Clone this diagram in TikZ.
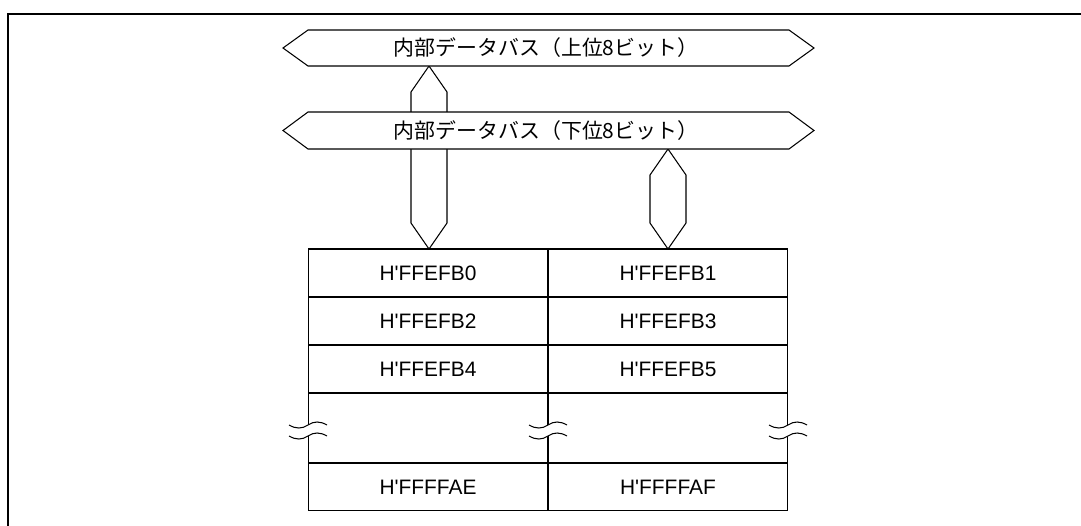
\documentclass[tikz,border=0pt]{standalone}
\usepackage{fontspec}
\setmainfont{Liberation Sans}
\newfontfamily\jpfont{Noto Sans CJK JP}
\usetikzlibrary{positioning}
\tikzset{
  bus/.style    = {draw, fill=white, line width=0.6pt, line join=miter},
  buslbl/.style = {font=\jpfont\fontsize{11.9}{14}\selectfont, inner sep=0pt},
  cell/.style   = {draw, line width=0.6pt, outer sep=0pt, inner sep=0pt,
                   minimum width=4.8cm, minimum height=0.96cm,
                   font=\fontsize{11.9}{14}\selectfont},
  gap/.style    = {cell, minimum height=1.4cm},
  wave/.style   = {line width=0.6pt},
}
\newcommand{\hq}{H\textquotesingle}

\begin{document}
\begin{tikzpicture}[x=0.02cm, y=-0.02cm]
  \useasboundingbox (0,0) rectangle (1081,525);
  % frame
  \draw[line width=1.3pt] (8,560) |- (1110,14);
  % vertical buses
  \draw[bus] (429,66) -- (447,92) -- (447,223) -- (429,249) -- (411,223) -- (411,92) -- cycle;
  \draw[bus] (668,149) -- (686,175) -- (686,223) -- (668,249) -- (650,223) -- (650,175) -- cycle;
  % horizontal buses
  \draw[bus] (283,48) -- (308,30) -- (789,30) -- (814,48) -- (789,66) -- (308,66) -- cycle;
  \node[buslbl] (hibus) at (546,48) {内部データバス（上位8ビット）};
  \draw[bus] (283,130.5) -- (308,112) -- (789,112) -- (814,130.5) -- (789,149) -- (308,149) -- cycle;
  \node[buslbl] (lobus) at (546,130.5) {内部データバス（下位8ビット）};
  % memory cells
  \node[cell] (fb0) at (428,273) {\hq FFEFB0};
  \node[cell, right=0pt of fb0] (fb1) {\hq FFEFB1};
  \node[cell, below=0pt of fb0] (fb2) {\hq FFEFB2};
  \node[cell, right=0pt of fb2] (fb3) {\hq FFEFB3};
  \node[cell, below=0pt of fb2] (fb4) {\hq FFEFB4};
  \node[cell, right=0pt of fb4] (fb5) {\hq FFEFB5};
  \node[gap,  below=0pt of fb4] (gapl) {};
  \node[gap,  right=0pt of gapl] (gapr) {};
  \node[cell, below=0pt of gapl] (fae) {\hq FFFFAE};
  \node[cell, right=0pt of fae] (faf) {\hq FFFFAF};
  % break marks
  \foreach \bx in {308,548,788} {
    \begin{scope}[shift={(\bx,0)}]
      \fill[white] (-19,425) .. controls (-12,429) and (-6,429) .. (0,425)
        .. controls (6,421) and (12,421) .. (19,425) -- (19,436)
        .. controls (12,432) and (6,432) .. (0,436)
        .. controls (-6,440) and (-12,440) .. (-19,436) -- cycle;
      \draw[wave] (-19,425) .. controls (-12,429) and (-6,429) .. (0,425)
        .. controls (6,421) and (12,421) .. (19,425);
      \draw[wave] (-19,436) .. controls (-12,440) and (-6,440) .. (0,436)
        .. controls (6,432) and (12,432) .. (19,436);
    \end{scope}
  }
\end{tikzpicture}
\end{document}
